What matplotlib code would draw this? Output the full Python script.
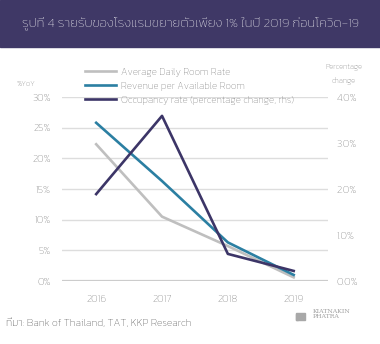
import matplotlib
matplotlib.use('Agg')
import matplotlib.pyplot as plt
from matplotlib.patches import Rectangle

plt.rcParams['font.family'] = ['Kanit', 'DejaVu Sans']
plt.rcParams['font.weight'] = 'light'

# ข้อมูล
years = ['2016', '2017', '2018', '2019']
adr = [22.3, 10.5, 5.7, 0.6]          # Average Daily Room Rate (%YoY)
revpar = [25.8, 16.3, 6.3, 1.0]       # Revenue per Available Room (%YoY)
occupancy = [1.89, 3.59, 0.59, 0.22]  # Occupancy rate (percentage change, rhs)

left_ticks = [0, 5, 10, 15, 20, 25, 30]
right_ticks = [0, 1, 2, 3, 4]

c_adr = '#bfbfbf'
c_rev = '#2b7fa2'
c_occ = '#3c3567'
c_txt = '#666666'

fig = plt.figure(figsize=(3.8, 3.44), dpi=100)

# แถบหัวเรื่อง
fig.patches.append(Rectangle((0, 0.863), 1, 0.137, transform=fig.transFigure,
                             color='#3f3866', zorder=0))
fig.text(0.5, 0.932, 'รูปที่ 4 รายรับของโรงแรมขยายตัวเพียง 1% ในปี 2019 ก่อนโควิด-19',
         color='white', fontsize=9.6, ha='center', va='center')

ax = fig.add_axes([0.163, 0.183, 0.70, 0.535])
x = list(range(len(years)))
l1, = ax.plot(x, adr, color=c_adr, lw=1.9, label='Average Daily Room Rate')
l2, = ax.plot(x, revpar, color=c_rev, lw=1.9, label='Revenue per Available Room')
ax.set_xlim(-0.52, 3.52)
ax.set_ylim(0, 30)
ax.set_yticks(left_ticks)
ax.set_yticklabels([f'{t}%' for t in left_ticks])
ax.set_xticks(x)
ax.set_xticklabels(years)
ax.grid(axis='y', color='#dddddd', lw=1)
ax.set_axisbelow(True)
for s in ax.spines.values():
    s.set_visible(False)
ax.axhline(0, color='#cccccc', lw=1.6, zorder=1)
ax.tick_params(length=0, colors=c_txt, labelsize=7.5, pad=8)
ax.tick_params(axis='x', pad=10)

ax2 = ax.twinx()
l3, = ax2.plot(x, occupancy, color=c_occ, lw=1.9,
               label='Occupancy rate (percentage change, rhs)')
ax2.set_ylim(0, 4)
ax2.set_yticks(right_ticks)
ax2.set_yticklabels([f'{t:.1f}%' for t in right_ticks])
for s in ax2.spines.values():
    s.set_visible(False)
ax2.tick_params(length=0, colors=c_txt, labelsize=7.5, pad=6)

fig.legend(handles=[l1, l2, l3], loc='upper left', bbox_to_anchor=(0.212, 0.815),
           frameon=False, fontsize=7.2, labelcolor=c_txt, handlelength=3.1,
           handletextpad=0.55, labelspacing=0.5, borderaxespad=0)

fig.text(0.067, 0.755, '%YoY', fontsize=5.5, color=c_txt, ha='center', va='center')
fig.text(0.905, 0.785, 'Percentage\nchange', fontsize=5.5, color=c_txt,
         ha='center', va='center', linespacing=1.9)

fig.text(0.015, 0.06, 'ที่มา: Bank of Thailand, TAT, KKP Research', fontsize=7.6,
         color='#333333', ha='left', va='center')

# โลโก้
fig.patches.append(Rectangle((0.778, 0.070), 0.025, 0.020, transform=fig.transFigure,
                             color='#a8a8a8'))
fig.patches.append(Rectangle((0.778, 0.070), 0.006, 0.018, transform=fig.transFigure,
                             color='#a8a8a8'))
fig.text(0.823, 0.088, 'KIATNAKIN\nPHATRA', fontsize=4.5, color='#a0a0a0',
         family='DejaVu Serif', ha='left', va='center', linespacing=1.1)

fig.savefig('out.png')
